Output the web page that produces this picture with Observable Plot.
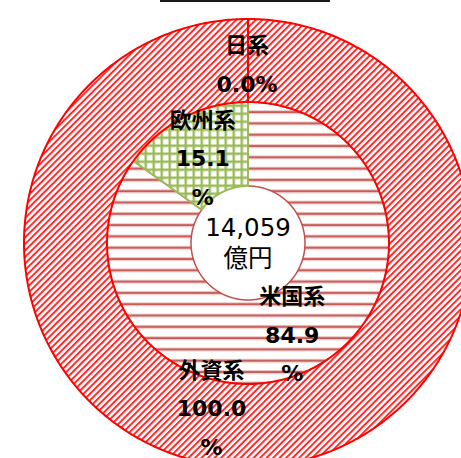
<!DOCTYPE html>
<html><head><meta charset="utf-8">
<script src="https://cdn.jsdelivr.net/npm/d3@7"></script>
<script src="https://cdn.jsdelivr.net/npm/@observablehq/plot@0.6"></script>
<style>
html,body{margin:0;padding:0;background:#fff;overflow:hidden}
#wrap{position:relative;width:461px;height:458px;overflow:hidden}
#rule{position:absolute;left:160px;top:0;width:170px;height:2px;background:#1a1a1a}
</style></head>
<body><div id="wrap"><div id="chart"></div><div id="rule"></div></div>
<script>
// ---- data ----
const outerCategories = ["外資系"];
const outerValues = [100.0];
const innerCategories = ["米国系", "欧州系", "日系"];
const innerValues = [84.9, 15.1, 0.0];
const totalAmount = "14,059";
const totalUnit = "億円";

// ---- layout ----
const W = 461, H = 458;
const CX = 247.5, CY = 242.5, R = 224;
const R_OUT = 1, R_MID = 141 / 224, R_HOLE = 57 / 224;
const FONT = '"DejaVu Sans", "Noto Sans CJK JP", sans-serif';
const sliceStyle = {
  "外資系": {fill: "url(#pOuter)", stroke: "#ff0000", strokeWidth: 2},
  "米国系": {fill: "url(#pUS)", stroke: "#c0504d", strokeWidth: 1.5},
  "欧州系": {fill: "url(#pEU)", stroke: "#9bbb59", strokeWidth: 2},
  "日系": null
};
const labelLayout = {
  "外資系": {dx: -36.5, dy: -21.5, wrap: true},
  "米国系": {dx: -1, dy: -0.5, wrap: true},
  "欧州系": {dx: 0, dy: -1, wrap: true},
  "日系": {dx: -1, dy: -84, wrap: false}
};

function slices(categories, values, r0, r1) {
  const arcs = d3.pie().sort(null).value(d => d)(values);
  return arcs.map((a, i) => ({category: categories[i], value: values[i], a0: a.startAngle, a1: a.endAngle, r0, r1}));
}
function ringPoints(s) {
  const step = Math.PI / 360;
  const n = Math.max(1, Math.ceil((s.a1 - s.a0) / step));
  const pts = [];
  for (let i = 0; i <= n; i++) {
    const t = s.a0 + (s.a1 - s.a0) * i / n;
    pts.push({x: s.r1 * Math.sin(t), y: s.r1 * Math.cos(t)});
  }
  for (let i = n; i >= 0; i--) {
    const t = s.a0 + (s.a1 - s.a0) * i / n;
    pts.push({x: s.r0 * Math.sin(t), y: s.r0 * Math.cos(t)});
  }
  return pts;
}

const inner = slices(innerCategories, innerValues, R_HOLE, R_MID);
const outer = slices(outerCategories, outerValues, R_MID, R_OUT);
const fmt = d3.format(".1f");

const defsMark = () => {
  const d = document.createElementNS("http://www.w3.org/2000/svg", "defs");
  d.innerHTML = `
  <pattern id="pOuter" patternUnits="userSpaceOnUse" width="4.6" height="4.6" patternTransform="rotate(45)">
    <rect width="4.6" height="4.6" fill="#fff"/>
    <rect width="2.0" height="4.6" fill="#ff2a2a"/>
  </pattern>
  <pattern id="pUS" patternUnits="userSpaceOnUse" width="20" height="11.3" y="8">
    <rect width="20" height="11.3" fill="#fff"/>
    <rect y="0" width="20" height="1" fill="#ebc3c2"/>
    <rect y="1" width="20" height="2" fill="#c65a57"/>
    <rect y="3" width="20" height="1" fill="#ebc3c2"/>
  </pattern>
  <pattern id="pEU" patternUnits="userSpaceOnUse" width="8" height="8">
    <rect width="8" height="8" fill="#fff"/>
    <rect width="8" height="2.5" fill="#9bbb59"/>
    <rect width="2.5" height="8" fill="#9bbb59"/>
  </pattern>`;
  return d;
};

const sliceMarks = [...inner, ...outer]
  .filter(s => s.value > 0 && sliceStyle[s.category])
  .map(s => Plot.line(ringPoints(s), {
    x: "x", y: "y", curve: "linear-closed",
    ...sliceStyle[s.category], strokeLinejoin: "round"
  }));

const labelMarks = [...inner, ...outer].map(s => {
  const L = labelLayout[s.category];
  const mid = (s.a0 + s.a1) / 2, rm = (s.r0 + s.r1) / 2;
  const text = s.category + "\n" + fmt(s.value) + (L.wrap ? "\n%" : "%");
  return Plot.text([s], {
    x: () => rm * Math.sin(mid), y: () => rm * Math.cos(mid),
    text: () => text, dx: L.dx, dy: L.dy,
    fontSize: 22, fontWeight: "bold", lineHeight: 1.75,
    fontFamily: FONT, fill: "#000"
  });
});

const centerMark = Plot.text([totalAmount + "\n" + totalUnit], {
  x: () => 0, y: () => 0, text: d => d, dy: -1.5,
  fontSize: 24.5, lineHeight: 1.27, fontFamily: FONT, fill: "#000"
});

const chart = Plot.plot({
  width: W, height: H, margin: 0,
  x: {domain: [-1, 1], range: [CX - R, CX + R], axis: null},
  y: {domain: [-1, 1], range: [CY + R, CY - R], axis: null},
  style: {background: "white", overflow: "hidden"},
  marks: [defsMark, ...sliceMarks, ...labelMarks, centerMark]
});
document.getElementById("chart").appendChild(chart);
</script>
</body></html>
